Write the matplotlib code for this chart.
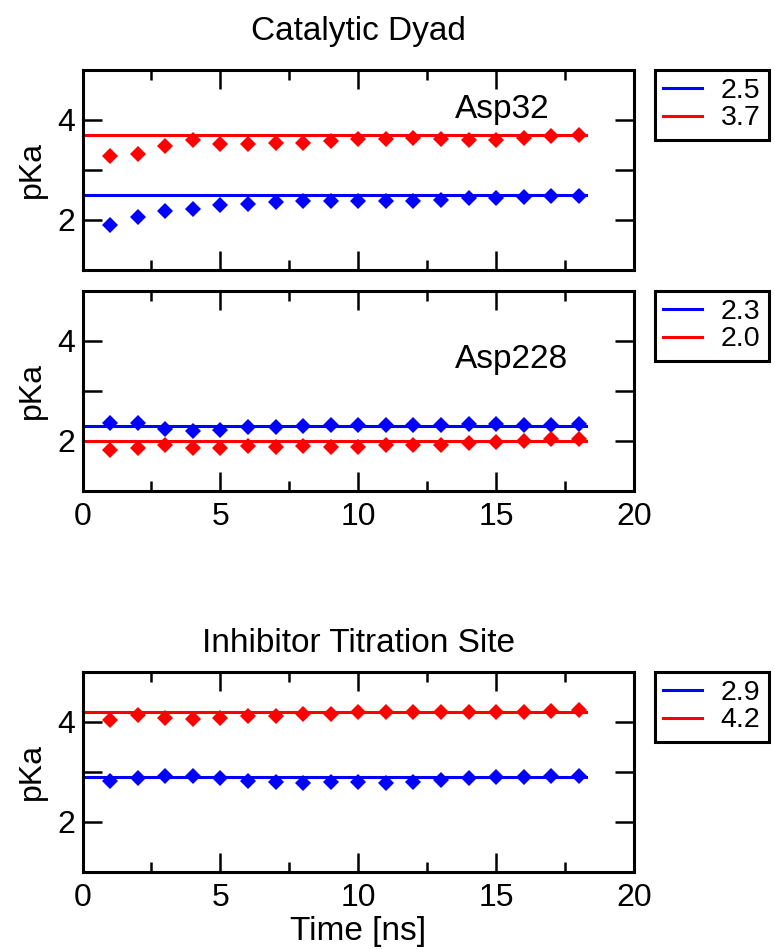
import numpy as np
import matplotlib
matplotlib.use("Agg")
import matplotlib.pyplot as plt
from matplotlib.ticker import FixedLocator, MultipleLocator

plt.rcParams["font.family"] = ["Liberation Sans", "DejaVu Sans"]

# time points (ns)
time_ns = [1, 2, 3, 4, 5, 6, 7, 8, 9, 10, 11, 12, 13, 14, 15, 16, 17, 18]
fit_span = [0, 18.25]

# Catalytic Dyad - Asp32
asp32_blue = [1.89, 2.05, 2.17, 2.22, 2.29, 2.32, 2.35, 2.37, 2.37,
              2.37, 2.37, 2.37, 2.40, 2.43, 2.43, 2.45, 2.47, 2.48]
asp32_red = [3.28, 3.32, 3.47, 3.60, 3.52, 3.51, 3.53, 3.53, 3.57,
             3.61, 3.61, 3.63, 3.61, 3.60, 3.60, 3.63, 3.68, 3.70]
asp32_fit = [2.5, 3.7]

# Catalytic Dyad - Asp228
asp228_blue = [2.35, 2.35, 2.24, 2.19, 2.22, 2.27, 2.27, 2.29, 2.32,
               2.31, 2.32, 2.31, 2.32, 2.33, 2.33, 2.32, 2.31, 2.33]
asp228_red = [1.81, 1.85, 1.91, 1.85, 1.85, 1.89, 1.87, 1.89, 1.87,
              1.87, 1.91, 1.91, 1.92, 1.95, 1.97, 2.00, 2.03, 2.04]
asp228_fit = [2.3, 2.0]

# Inhibitor titration site
inh_blue = [2.81, 2.88, 2.92, 2.91, 2.87, 2.81, 2.79, 2.77, 2.79,
            2.79, 2.77, 2.79, 2.83, 2.87, 2.89, 2.89, 2.91, 2.91]
inh_red = [4.03, 4.13, 4.07, 4.05, 4.08, 4.11, 4.11, 4.15, 4.15,
           4.19, 4.19, 4.20, 4.19, 4.19, 4.19, 4.20, 4.22, 4.23]
inh_fit = [2.9, 4.2]

fit_labels = {"asp32": ["2.5", "3.7"], "asp228": ["2.3", "2.0"], "inh": ["2.9", "4.2"]}

BLUE = "#0000ff"
RED = "#ff0000"
TICK_FS = 23
TITLE_FS = 24
LEG_FS = 20.5

fig = plt.figure(figsize=(7.75, 9.49), dpi=100)
left, width = 82.5 / 775, (634 - 82.5) / 775
h = 200.5 / 949
ax1 = fig.add_axes([left, 1 - 270 / 949, width, h])
ax2 = fig.add_axes([left, 1 - 491 / 949, width, h])
ax3 = fig.add_axes([left, 1 - 872 / 949, width, h])


def draw_panel(ax, blue, red, fit, labels, xlabels=True):
    lb, = ax.plot(fit_span, [fit[0], fit[0]], color=BLUE, lw=2.2, zorder=2)
    lr, = ax.plot(fit_span, [fit[1], fit[1]], color=RED, lw=2.2, zorder=2)
    ax.plot(time_ns, blue, ls="none", marker="D", ms=8.5, mew=0, color=BLUE, zorder=3)
    ax.plot(time_ns, red, ls="none", marker="D", ms=8.5, mew=0, color=RED, zorder=3)
    ax.set_xlim(0, 20)
    ax.set_ylim(1, 5)
    ax.xaxis.set_major_locator(MultipleLocator(5))
    ax.xaxis.set_minor_locator(MultipleLocator(2.5))
    ax.yaxis.set_major_locator(FixedLocator([2, 3, 4]))
    ax.set_yticklabels(["2", "", "4"])
    ax.tick_params(which="both", direction="in", top=True, right=True,
                   width=1.8, labelsize=TICK_FS)
    ax.tick_params(which="major", length=13.5)
    ax.tick_params(which="minor", length=7)
    ax.tick_params(axis="y", pad=5)
    ax.tick_params(axis="x", pad=8)
    if not xlabels:
        ax.tick_params(axis="x", labelbottom=False)
    for sp in ax.spines.values():
        sp.set_linewidth(2.2)
    ax.set_ylabel("pKa", fontsize=TICK_FS, labelpad=8)
    leg = ax.legend([lb, lr], labels, loc="upper left",
                    bbox_to_anchor=(1.038, 1.0), borderaxespad=0,
                    fontsize=LEG_FS, handlelength=1.35, handletextpad=0.65,
                    borderpad=0.3, labelspacing=0.05, fancybox=False,
                    frameon=True, edgecolor="black", framealpha=1)
    leg.get_frame().set_linewidth(2.2)
    return ax


draw_panel(ax1, asp32_blue, asp32_red, asp32_fit, fit_labels["asp32"], xlabels=False)
draw_panel(ax2, asp228_blue, asp228_red, asp228_fit, fit_labels["asp228"])
draw_panel(ax3, inh_blue, inh_red, inh_fit, fit_labels["inh"])

ax1.set_title("Catalytic Dyad", fontsize=TITLE_FS, pad=21)
ax3.set_title("Inhibitor Titration Site", fontsize=TITLE_FS, pad=14)
ax1.text(13.5, 4.2, "Asp32", fontsize=TITLE_FS, va="center", ha="left")
ax2.text(13.5, 3.62, "Asp228", fontsize=TITLE_FS, va="center", ha="left")
ax3.set_xlabel("Time [ns]", fontsize=TITLE_FS, labelpad=2)

fig.savefig("out.png", dpi=100)
